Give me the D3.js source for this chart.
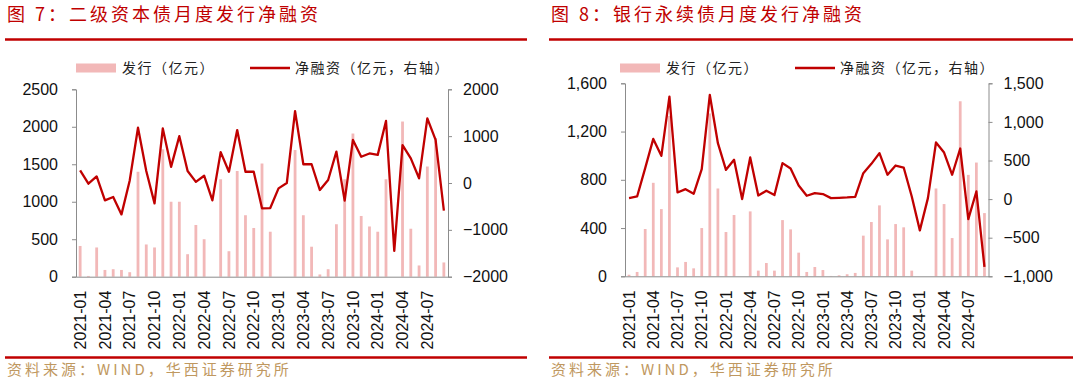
<!DOCTYPE html>
<html>
<head>
<meta charset="utf-8">
<script src="https://cdn.jsdelivr.net/npm/d3@7"></script>
<style>
  body { margin: 0; background: #fff; }
  svg { display: block; }
</style>
</head>
<body>
<div id="chart"></div>
<script>
// months on the x axis (2021-01 .. 2024-09)
var months = ["2021-01","2021-02","2021-03","2021-04","2021-05","2021-06","2021-07","2021-08","2021-09","2021-10","2021-11","2021-12",
  "2022-01","2022-02","2022-03","2022-04","2022-05","2022-06","2022-07","2022-08","2022-09","2022-10","2022-11","2022-12",
  "2023-01","2023-02","2023-03","2023-04","2023-05","2023-06","2023-07","2023-08","2023-09","2023-10","2023-11","2023-12",
  "2024-01","2024-02","2024-03","2024-04","2024-05","2024-06","2024-07","2024-08","2024-09"];

// fig 7: tier-2 capital bonds
var issue7 = [410,10,390,90,100,90,60,1400,430,390,1700,1000,1000,300,690,500,0,1300,340,1410,820,650,1510,
  600,0,0,1690,820,400,30,100,700,1300,1910,810,670,600,1300,0,2070,640,150,1470,1850,190];
var net7 = [270,-15,140,-370,-300,-670,55,1180,255,-435,1165,345,1000,255,25,155,-370,660,240,1130,240,240,-540,
  -535,-115,0,1535,400,400,-150,65,670,-375,920,560,630,600,1325,-1450,810,525,100,1380,920,-590];
var ticksL7 = [0,500,1000,1500,2000,2500];
var ticksR7 = [-2000,-1000,0,1000,2000];

// fig 8: bank perpetual bonds
var issue8 = [13,36,392,775,557,1330,74,119,66,400,1350,728,367,508,0,538,47,110,47,466,389,196,36,
  77,52,3,8,17,28,337,450,588,306,433,406,47,0,0,728,599,317,1451,841,943,524];
var net8 = [13,34,401,780,560,1327,86,129,69,388,1349,724,379,509,0,539,47,108,52,466,397,177,43,
  78,65,13,17,22,30,336,457,595,315,435,409,34,-405,13,733,603,315,655,-259,99,-879];
var ticksL8 = [0,400,800,1200,1600];
var ticksR8 = [-1000,-500,0,500,1000,1500];

var labelMonths = months.filter(function (d, i) { return i % 3 == 0; });

var width = 1080, height = 387;
var red = "#c00000", barColor = "#f2b8b8", axisColor = "#8c8c8c";
var cjk = "'Noto Sans CJK SC', sans-serif";
var num = "'Liberation Sans', Arial, sans-serif";

var svg = d3.select("#chart").append("svg")
  .attr("width", width)
  .attr("height", height);

function drawPanel(p) {
  var g = svg.append("g");

  // title + red rules
  g.append("text")
    .attr("x", p.x0 + 2).attr("y", 15)
    .attr("dy", "0.35em")
    .attr("fill", red)
    .attr("font-family", cjk)
    .attr("font-size", "18px")
    .style("letter-spacing", "3px")
    .text(p.title);
  g.append("line")
    .attr("x1", p.x0).attr("x2", p.x1)
    .attr("y1", 39.5).attr("y2", 39.5)
    .attr("stroke", red).attr("stroke-width", 2.5);
  g.append("line")
    .attr("x1", p.x0).attr("x2", p.x1)
    .attr("y1", 357.5).attr("y2", 357.5)
    .attr("stroke", red).attr("stroke-width", 2.5);
  g.append("text")
    .attr("x", p.x0 + 2).attr("y", 370)
    .attr("dy", "0.35em")
    .attr("fill", "#bf9860")
    .attr("font-family", cjk)
    .attr("font-size", "15px")
    .style("letter-spacing", "3px")
    .text("资料来源：WIND，华西证券研究所");

  var x = d3.scaleBand()
    .domain(months)
    .range([p.left, p.right])
    .padding(0);

  var yL = d3.scaleLinear().domain(p.domL).range([p.bottom, p.top]);
  var yR = d3.scaleLinear().domain(p.domR).range([p.bottom, p.top]);

  // bars
  var bw = x.bandwidth() * 0.34;
  g.append("g").selectAll("rect")
    .data(p.issue)
    .enter().append("rect")
    .attr("x", function (d, i) { return x(months[i]) + x.bandwidth() / 2 - bw / 2; })
    .attr("width", bw)
    .attr("y", function (d) { return yL(d); })
    .attr("height", function (d) { return yL(0) - yL(d); })
    .attr("fill", barColor);

  // axes
  var axL = g.append("g")
    .attr("transform", "translate(" + p.left + ",0)")
    .call(d3.axisLeft(yL).tickValues(p.ticksL).tickSize(4).tickPadding(14).tickFormat(p.fmt));
  var axR = g.append("g")
    .attr("transform", "translate(" + p.right + ",0)")
    .call(d3.axisRight(yR).tickValues(p.ticksR).tickSize(4).tickPadding(11).tickFormat(p.fmt));
  var axB = g.append("g")
    .attr("transform", "translate(0," + p.bottom + ")")
    .call(d3.axisBottom(x).tickValues(labelMonths).tickSize(0).tickPadding(0));
  axB.selectAll("text")
    .attr("transform", "translate(0,14) rotate(-90)")
    .attr("text-anchor", "end")
    .attr("x", 0).attr("y", 0)
    .attr("dy", "0.35em");

  [axL, axR, axB].forEach(function (a) {
    a.select(".domain").attr("stroke", axisColor);
    a.selectAll(".tick line").attr("stroke", axisColor);
    a.selectAll("text")
      .attr("fill", "#111")
      .attr("font-family", num)
      .attr("font-size", "16px");
  });

  // net financing line
  var line = d3.line()
    .x(function (d, i) { return x(months[i]) + x.bandwidth() / 2; })
    .y(function (d) { return yR(d); });
  g.append("path")
    .datum(p.net)
    .attr("d", line)
    .attr("fill", "none")
    .attr("stroke", red)
    .attr("stroke-width", 2.3)
    .attr("stroke-linejoin", "round");

  // legend
  var lg = g.append("g");
  lg.append("rect")
    .attr("x", p.legX).attr("y", 63.5)
    .attr("width", 40).attr("height", 9)
    .attr("fill", barColor);
  lg.append("text")
    .attr("x", p.legX + 46).attr("y", 68)
    .attr("dy", "0.35em")
    .attr("font-family", cjk).attr("font-size", "14px")
    .style("letter-spacing", "1.5px")
    .attr("fill", "#222")
    .text("发行（亿元）");
  lg.append("line")
    .attr("x1", p.legX2).attr("x2", p.legX2 + 40)
    .attr("y1", 68).attr("y2", 68)
    .attr("stroke", red).attr("stroke-width", 2.3);
  lg.append("text")
    .attr("x", p.legX2 + 45).attr("y", 68)
    .attr("dy", "0.35em")
    .attr("font-family", cjk).attr("font-size", "14px")
    .style("letter-spacing", "1.5px")
    .attr("fill", "#222")
    .text("净融资（亿元，右轴）");
}

drawPanel({
  title: "图 7：二级资本债月度发行净融资",
  x0: 5, x1: 527,
  left: 76, right: 448, top: 89.3, bottom: 276.7,
  domL: [0, 2500], domR: [-2000, 2000],
  ticksL: ticksL7, ticksR: ticksR7,
  fmt: d3.format("d"),
  issue: issue7, net: net7,
  legX: 76, legX2: 250
});

drawPanel({
  title: "图 8：银行永续债月度发行净融资",
  x0: 549, x1: 1073,
  left: 625, right: 988.5, top: 83.3, bottom: 276.3,
  domL: [0, 1600], domR: [-1000, 1500],
  ticksL: ticksL8, ticksR: ticksR8,
  fmt: d3.format(","),
  issue: issue8, net: net8,
  legX: 620, legX2: 795
});
</script>
</body>
</html>
